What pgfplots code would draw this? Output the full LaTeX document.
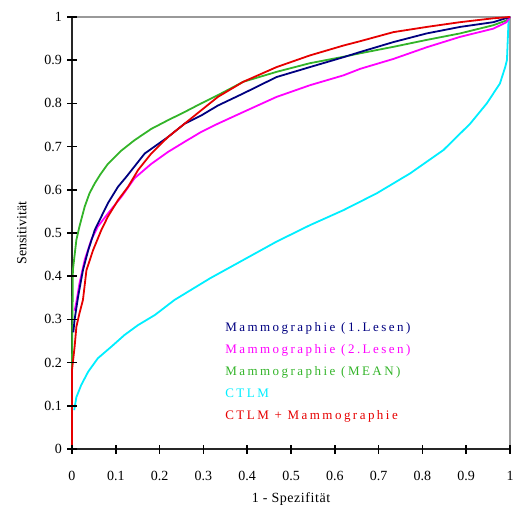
\documentclass[border=0pt]{standalone}
\usepackage{pgfplots}
\pgfplotsset{compat=1.18}
\usepackage{fontspec}
\setmainfont{Liberation Serif}
\definecolor{cnavy}{RGB}{0,0,128}
\definecolor{cmag}{RGB}{255,0,255}
\definecolor{cgreen}{RGB}{51,180,41}
\definecolor{ccyan}{RGB}{0,238,255}
\definecolor{cred}{RGB}{230,0,0}
\begin{document}
\begin{tikzpicture}
\useasboundingbox (-72pt,-64pt) rectangle (440pt,449pt);
\begin{axis}[
  scale only axis, width=438pt, height=432pt,
  xmin=0, xmax=1, ymin=0, ymax=1,
  axis x line=bottom, axis y line=left,
  axis line style={-, line width=1.2pt, black!85},
  xtick={0,0.1,...,1}, ytick={0,0.1,...,1},
  tick align=center, major tick length=9pt,
  xtick style={draw=black, line width=1.6pt},
  ytick style={draw=black, line width=1.6pt},
  /pgf/number format/assume math mode=true,
  tick label style={font=\fontsize{14}{16}\selectfont},
  xticklabel style={yshift=-14pt},
  yticklabel style={xshift=-2pt},
  xlabel={\addfontfeature{LetterSpace=4}1 - Spezifität},
  ylabel={Sensitivität},
  label style={font=\fontsize{14}{16}\selectfont},
  xlabel style={yshift=-5pt},
  ylabel style={yshift=11pt},
  legend style={draw=none, fill=none, at={(axis cs:0.345,0.298)}, anchor=north west,
    font=\fontsize{13}{15}\selectfont\addfontfeature{LetterSpace=19}, row sep=7.5pt, inner sep=0pt},
  legend cell align=left,
  clip=false,
]
\draw[gray!80, line width=1.2pt] (rel axis cs:0,1) -- (rel axis cs:1,1) -- (rel axis cs:1,0);
\addplot[ccyan, line width=1.8pt, forget plot] coordinates {
(0.005,0.09)(0.01,0.12)(0.021,0.148)(0.037,0.179)(0.059,0.21)(0.09,0.237)(0.12,0.264)(0.151,0.287)(0.189,0.31)(0.234,0.345)(0.315,0.395)(0.391,0.4375)(0.467,0.48)(0.543,0.518)(0.62,0.553)(0.696,0.592)(0.772,0.638)(0.848,0.692)(0.909,0.753)(0.947,0.80)(0.977,0.846)(0.989,0.884)(0.993,0.90)(0.997,1.0)};
\addplot[cgreen, line width=1.8pt, forget plot] coordinates {
(0,0.18)(0.002,0.414)(0.01,0.484)(0.017,0.515)(0.029,0.561)(0.04,0.592)(0.052,0.615)(0.065,0.636)(0.082,0.66)(0.113,0.691)(0.143,0.715)(0.181,0.741)(0.219,0.761)(0.257,0.78)(0.295,0.8)(0.333,0.819)(0.391,0.85)(0.467,0.873)(0.543,0.893)(0.62,0.908)(0.658,0.916)(0.734,0.931)(0.81,0.947)(0.886,0.962)(0.962,0.981)(0.992,0.992)(1,1)};
\addplot[cmag, line width=1.8pt, forget plot] coordinates {
(0.006,0.32)(0.01,0.34)(0.017,0.383)(0.029,0.4375)(0.044,0.484)(0.059,0.515)(0.082,0.545)(0.113,0.584)(0.143,0.627)(0.181,0.66)(0.219,0.6875)(0.257,0.711)(0.295,0.734)(0.333,0.753)(0.391,0.78)(0.467,0.815)(0.543,0.842)(0.62,0.865)(0.658,0.88)(0.734,0.903)(0.81,0.93)(0.886,0.954)(0.962,0.973)(0.992,0.988)(1,1)};
\addplot[cnavy, line width=1.8pt, forget plot] coordinates {
(0.003,0.27)(0.006,0.30)(0.014,0.353)(0.025,0.414)(0.037,0.46)(0.052,0.507)(0.067,0.538)(0.082,0.569)(0.105,0.607)(0.124,0.63)(0.166,0.684)(0.219,0.722)(0.257,0.753)(0.295,0.772)(0.333,0.795)(0.391,0.823)(0.467,0.861)(0.543,0.884)(0.62,0.907)(0.658,0.919)(0.734,0.942)(0.81,0.962)(0.886,0.977)(0.962,0.988)(0.99,0.997)(1,1)};
\addplot[cred, line width=1.8pt, forget plot] coordinates {
(0,0)(0,0.183)(0.006,0.237)(0.01,0.283)(0.017,0.314)(0.025,0.345)(0.033,0.414)(0.048,0.46)(0.067,0.507)(0.082,0.538)(0.105,0.576)(0.128,0.607)(0.151,0.646)(0.181,0.684)(0.219,0.722)(0.257,0.753)(0.295,0.784)(0.333,0.815)(0.391,0.85)(0.467,0.884)(0.543,0.911)(0.62,0.934)(0.658,0.944)(0.734,0.965)(0.81,0.977)(0.886,0.988)(0.962,0.997)(1,1)};
\addlegendimage{empty legend}\addlegendentry{\textcolor{cnavy}{Mammographie (1.Lesen)}}
\addlegendimage{empty legend}\addlegendentry{\textcolor{cmag}{Mammographie (2.Lesen)}}
\addlegendimage{empty legend}\addlegendentry{\textcolor{cgreen}{Mammographie (MEAN)}}
\addlegendimage{empty legend}\addlegendentry{\textcolor{ccyan}{CTLM}}
\addlegendimage{empty legend}\addlegendentry{\textcolor{cred}{CTLM + Mammographie}}
\end{axis}
\foreach \i in {0,...,10} {
  \draw[black, line width=1.6pt] (43.8pt*\i,-4.5pt) -- (43.8pt*\i,4.5pt);
  \draw[black, line width=1.6pt] (-4.5pt,43.2pt*\i) -- (4.5pt,43.2pt*\i);
}
\end{tikzpicture}
\end{document}
